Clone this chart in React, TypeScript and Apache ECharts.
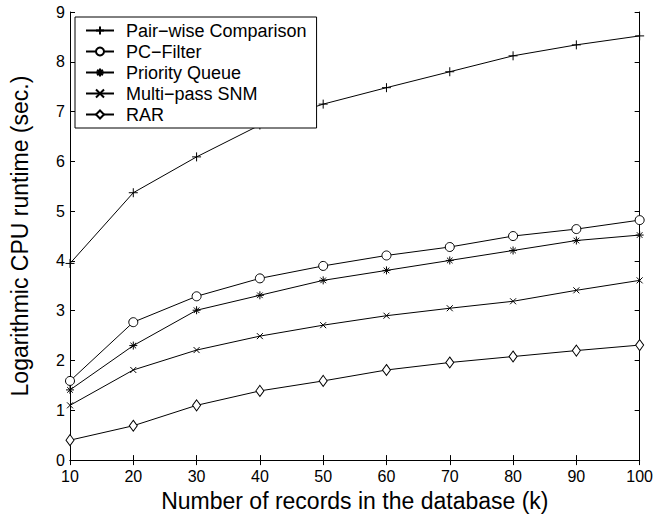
import React, { useEffect, useRef } from "react";
import * as echarts from "echarts";

const records = [10, 20, 30, 40, 50, 60, 70, 80, 90, 100];
const pairwise = [3.95, 5.37, 6.09, 6.73, 7.15, 7.48, 7.8, 8.12, 8.34, 8.52];
const pcFilter = [1.59, 2.77, 3.29, 3.65, 3.9, 4.11, 4.28, 4.5, 4.64, 4.82];
const priorityQueue = [1.41, 2.3, 3.01, 3.31, 3.61, 3.81, 4.01, 4.21, 4.41, 4.52];
const multiPass = [1.1, 1.81, 2.21, 2.49, 2.71, 2.9, 3.05, 3.19, 3.41, 3.61];
const rar = [0.4, 0.69, 1.1, 1.39, 1.59, 1.81, 1.96, 2.08, 2.2, 2.31];

const seriesNames = [
  "Pair\u2212wise Comparison",
  "PC\u2212Filter",
  "Priority Queue",
  "Multi\u2212pass SNM",
  "RAR",
];

const FONT = "'Liberation Sans', Arial, Helvetica, sans-serif";

const PLUS = "path://M5,0L5,10M0,5L10,5";
const STAR = "path://M5,0L5,10M0,5L10,5M1.5,1.5L8.5,8.5M8.5,1.5L1.5,8.5";
const CROSS = "path://M0,0L10,10M10,0L0,10";

export default function App() {
  const ref = useRef<HTMLDivElement>(null);

  useEffect(() => {
    if (!ref.current) return;
    const chart = echarts.init(ref.current, undefined, { renderer: "svg" });

    const mk = (name: string, values: number[], symbol: string, size: any, hollow: boolean) => ({
      name,
      type: "line",
      data: records.map((x, i) => [x, values[i]]),
      symbol,
      symbolSize: size,
      showSymbol: true,
      lineStyle: { color: "#000", width: 1 },
      itemStyle: { color: hollow ? "#fff" : "#000", borderColor: "#000", borderWidth: 1 },
      emphasis: { disabled: true },
      z: 3,
    });

    const baseAxisLine = { show: true, lineStyle: { color: "#000", width: 1 } };
    const tick = { show: true, inside: true, length: 5, lineStyle: { color: "#000" } };

    chart.setOption({
      animation: false,
      backgroundColor: "#fff",
      grid: { left: 67, right: 10, top: 12, bottom: 51, containLabel: false },
      legend: {
        orient: "vertical",
        left: 75,
        top: 17,
        padding: [3, 10, 3, 10],
        itemGap: 0,
        itemWidth: 28,
        itemHeight: 10,
        backgroundColor: "#fff",
        borderColor: "#000",
        borderWidth: 1,
        borderRadius: 0,
        selectedMode: false,
        data: seriesNames,
        textStyle: {
          fontFamily: FONT,
          fontSize: 18,
          color: "#000",
          lineHeight: 21,
          padding: [0, 0, 0, 7],
        },
      },
      xAxis: [
        {
          type: "value",
          min: 10,
          max: 100,
          interval: 10,
          name: "Number of records in the database (k)",
          nameLocation: "middle",
          nameGap: 25,
          nameTextStyle: { fontFamily: FONT, fontSize: 23, color: "#000" },
          axisLine: baseAxisLine,
          axisTick: tick,
          axisLabel: { fontFamily: FONT, fontSize: 16, color: "#000", margin: 8 },
          splitLine: { show: false },
        },
        {
          type: "value",
          position: "top",
          min: 10,
          max: 100,
          interval: 10,
          axisLine: baseAxisLine,
          axisTick: tick,
          axisLabel: { show: false },
          splitLine: { show: false },
        },
      ],
      yAxis: [
        {
          type: "value",
          min: 0,
          max: 9,
          interval: 1,
          name: "Logarithmic CPU runtime (sec.)",
          nameLocation: "middle",
          nameGap: 39,
          nameTextStyle: { fontFamily: FONT, fontSize: 23, color: "#000" },
          axisLine: baseAxisLine,
          axisTick: tick,
          axisLabel: { fontFamily: FONT, fontSize: 16, color: "#000", margin: 5 },
          splitLine: { show: false },
        },
        {
          type: "value",
          position: "right",
          min: 0,
          max: 9,
          interval: 1,
          axisLine: baseAxisLine,
          axisTick: tick,
          axisLabel: { show: false },
          splitLine: { show: false },
        },
      ],
      series: [
        mk(seriesNames[0], pairwise, PLUS, 9, false),
        mk(seriesNames[1], pcFilter, "circle", 9, true),
        mk(seriesNames[2], priorityQueue, STAR, 8, false),
        mk(seriesNames[3], multiPass, CROSS, 6, false),
        mk(seriesNames[4], rar, "diamond", [8, 11], true),
      ],
    });

    return () => chart.dispose();
  }, []);

  return (
    <div
      ref={ref}
      style={{ position: "absolute", left: 0, top: 0, width: 656, height: 517 }}
    />
  );
}
